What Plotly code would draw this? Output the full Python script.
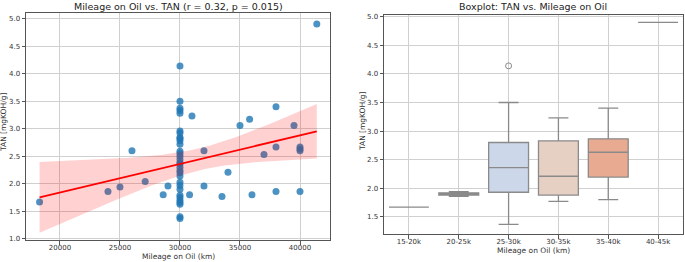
import numpy as np
import plotly.graph_objects as go

# ---------------- data ----------------
mileage_km = [18300, 24000, 25000, 26000, 27100, 28600, 29000,
              30000, 30000, 30000, 30000, 30000, 30000, 30000, 30000, 30000, 30000,
              30000, 30000, 30000, 30000, 30000, 30000, 30000, 30000, 30000, 30000,
              30000, 30000, 30000, 30000, 30000, 30000, 30000, 30000, 30000, 30000, 30000,
              30800, 31000, 32000, 32000, 33500, 34000, 35000,
              35800, 36000, 37000, 38000, 38000, 38000, 39500, 40000, 40000, 40000, 40000,
              41400]
tan_mgkoh = [1.67, 1.86, 1.94, 2.60, 2.04, 1.80, 1.96,
             4.14, 3.50, 3.37, 3.33, 3.28, 2.96, 2.92, 2.84, 2.82, 2.78,
             2.72, 2.59, 2.55, 2.50, 2.44, 2.38, 2.36, 2.30, 2.24, 2.20,
             2.14, 2.03, 1.97, 1.90, 1.79, 1.75, 1.70, 1.66, 1.63, 1.40, 1.37,
             1.80, 3.23, 1.96, 2.60, 1.77, 2.21, 3.06,
             3.17, 1.80, 2.53, 2.67, 3.40, 1.86, 3.06, 2.67, 2.63, 2.60, 1.86,
             4.90]
bin_edges = [15000, 20000, 25000, 30000, 35000, 40000, 45000]
bin_labels = ["15-20k", "20-25k", "25-30k", "30-35k", "35-40k", "40-45k"]
box_colors = ["#8fa6dd", "#b3c5e6", "#cdd7ea", "#e6d0c4", "#e8aa90", "#d98170"]
title_left = "Mileage on Oil vs. TAN (r = 0.32, p = 0.015)"
title_right = "Boxplot: TAN vs. Mileage on Oil"
x_title = "Mileage on Oil (km)"
y_title = "TAN [mgKOH/g]"
x_ticks_left = [20000, 25000, 30000, 35000, 40000]
y_ticks_left = [1.0, 1.5, 2.0, 2.5, 3.0, 3.5, 4.0, 4.5, 5.0]
y_ticks_right = [1.5, 2.0, 2.5, 3.0, 3.5, 4.0, 4.5, 5.0]

# ---------------- regression ----------------
x = np.array(mileage_km, dtype=float)
y = np.array(tan_mgkoh, dtype=float)
n = len(x)
slope, intercept = np.polyfit(x, y, 1)
xs = np.linspace(x.min(), x.max(), 100)
ys = intercept + slope * xs
resid = y - (intercept + slope * x)
s = np.sqrt(np.sum(resid ** 2) / (n - 2))
sxx = np.sum((x - x.mean()) ** 2)
se = s * np.sqrt(1.0 / n + (xs - x.mean()) ** 2 / sxx)
tcrit = 2.3
upper = ys + tcrit * se
lower = ys - tcrit * se

FONT = "DejaVu Sans"
EDGE = "#8a8a8a"
fig = go.Figure()

fig.add_trace(go.Scatter(x=x, y=y, mode="markers",
                         marker=dict(color="#1f77b4", size=7, opacity=0.8, line=dict(width=0)),
                         xaxis="x", yaxis="y", showlegend=False))
fig.add_trace(go.Scatter(x=np.concatenate([xs, xs[::-1]]), y=np.concatenate([upper, lower[::-1]]),
                         fill="toself", fillcolor="rgba(255,0,0,0.18)", line=dict(width=0),
                         mode="lines", xaxis="x", yaxis="y", showlegend=False, hoverinfo="skip"))
fig.add_trace(go.Scatter(x=xs, y=ys, mode="lines", line=dict(color="red", width=1.8),
                         xaxis="x", yaxis="y", showlegend=False))

# ---------------- boxplots (stats like pandas/seaborn) ----------------
bins = np.digitize(x, bin_edges[1:-1], right=True)
out_x, out_y = [], []
for i, lab in enumerate(bin_labels):
    vals = y[bins == i]
    q1, med, q3 = np.percentile(vals, [25, 50, 75])
    iqr = q3 - q1
    lo_f, hi_f = q1 - 1.5 * iqr, q3 + 1.5 * iqr
    inside = vals[(vals >= lo_f) & (vals <= hi_f)]
    lw, uw = inside.min(), inside.max()
    for v in vals[(vals < lo_f) | (vals > hi_f)]:
        out_x.append(lab)
        out_y.append(v)
    fig.add_trace(go.Box(x=[lab], q1=[q1], median=[med], q3=[q3], lowerfence=[lw], upperfence=[uw],
                         name=lab, xaxis="x2", yaxis="y2",
                         fillcolor=box_colors[i], line=dict(color=EDGE, width=1.3),
                         width=0.8, whiskerwidth=0.5, showlegend=False))
fig.add_trace(go.Scatter(x=out_x, y=out_y, mode="markers", xaxis="x2", yaxis="y2",
                         marker=dict(symbol="circle-open", color=EDGE, size=6, line=dict(width=1)),
                         showlegend=False))

axis_common = dict(showgrid=True, gridcolor="#d0d0d0", gridwidth=1, showline=True,
                   linecolor="#555555", linewidth=1, mirror=True, ticks="outside",
                   ticklen=3.5, tickcolor="#555555", zeroline=False,
                   tickfont=dict(family=FONT, size=7, color="#333333"),
                   automargin=False)

def ann(text, xp, yp, size=7.5, angle=0, color="#333333"):
    return dict(text=text, x=xp / 685, y=1 - yp / 262, xref="paper", yref="paper",
                showarrow=False, font=dict(family=FONT, size=size, color=color),
                xanchor="center", yanchor="middle", textangle=angle)

fig.update_layout(
    width=685, height=262,
    margin=dict(l=0, r=0, t=0, b=0),
    paper_bgcolor="white", plot_bgcolor="white",
    font=dict(family=FONT, color="#333333"),
    xaxis=dict(domain=[26 / 685, 330 / 685], range=[17170, 42500], tickvals=x_ticks_left,
               tickformat="d", ticklabelstandoff=-3, anchor="y", **axis_common),
    yaxis=dict(domain=[22 / 262, 249 / 262], range=[0.98, 5.1], tickvals=y_ticks_left,
               tickformat=".1f", anchor="x", **axis_common),
    xaxis2=dict(domain=[384 / 685, 683 / 685], range=[-0.5, 5.5], type="category",
                categoryorder="array", categoryarray=bin_labels, ticklabelstandoff=-3,
                anchor="y2", **axis_common),
    yaxis2=dict(domain=[28 / 262, 247 / 262], range=[1.2, 5.03], tickvals=y_ticks_right,
                tickformat=".1f", anchor="x2", **axis_common),
    annotations=[
        ann(title_left, 178, 6, size=9.5, color="#222222"),
        ann(title_right, 533, 7, size=9.5, color="#222222"),
        ann(x_title, 178, 256),
        ann(x_title, 533, 250),
        ann(y_title, 4, 123, angle=-90),
        ann(y_title, 362, 122, angle=-90),
    ],
)

fig.write_html("out.html", config={"displayModeBar": False},
               post_script="document.body.style.margin='0';document.body.style.overflow='hidden';")
